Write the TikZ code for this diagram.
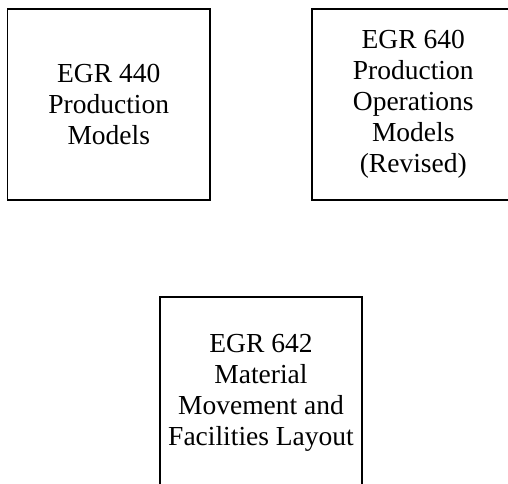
\documentclass[tikz,border=0pt]{standalone}
\usepackage{fontspec}
\setmainfont{Liberation Serif}
\begin{document}
\begin{tikzpicture}[x=1pt,y=-1pt,
  box/.style={draw=black,line width=1.6pt,minimum width=202.5pt,minimum height=191pt,
    inner sep=0pt,align=center,font=\fontsize{27.5}{31}\selectfont}]
\useasboundingbox (0,0) rectangle (508,483);
\clip (0,0) rectangle (508,483);
\node[box] (b1) at (108.75,104.5) {EGR 440\\Production\\Models};
\node[box] (b2) at (413.25,104.5) {EGR 640\\Production\\Operations\\Models\\(Revised)};
\node[box] (b3) at (261,392.5) {EGR 642\\Material\\Movement and\\Facilities Layout};
\end{tikzpicture}
\end{document}
